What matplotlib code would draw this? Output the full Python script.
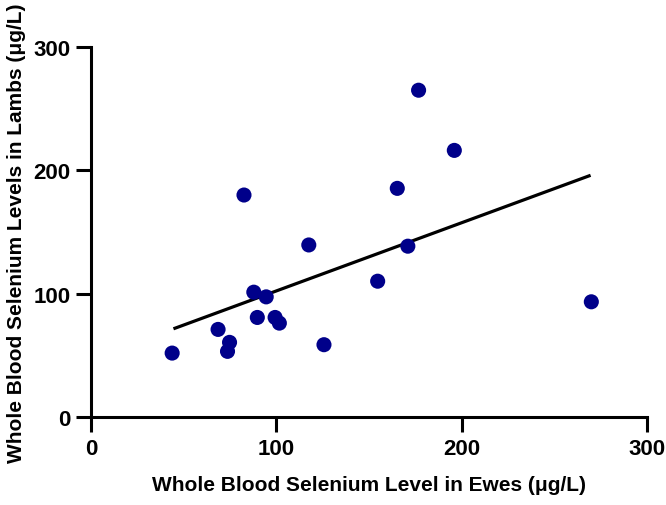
import matplotlib
matplotlib.use("Agg")
import matplotlib.pyplot as plt
import numpy as np

# Data
ewes_se = [43.7, 68.5, 74.7, 73.6, 82.5, 87.8, 89.7, 94.5, 99.3, 101.6,
           117.5, 125.7, 154.7, 165.3, 171.0, 176.8, 196.1, 270.1]
lambs_se = [51.8, 71.0, 60.5, 53.2, 180.0, 101.2, 80.7, 97.4, 80.7, 76.1,
            139.5, 58.6, 110.1, 185.4, 138.5, 265.0, 216.2, 93.4]
fit_x = [44.4, 269.7]
fit_y = [71.5, 196.0]
ticks = [0, 100, 200, 300]

plt.rcParams['font.family'] = ['Liberation Sans', 'DejaVu Sans']

fig = plt.figure(figsize=(6.66, 5.06), dpi=100)
ax = fig.add_axes([0.137, 0.174, 0.834, 0.731])

ax.plot(fit_x, fit_y, color='black', lw=2.3, solid_capstyle='butt', zorder=2)
ax.scatter(ewes_se, lambs_se, s=118, color='#00008a', edgecolors='none', zorder=3)

ax.set_xlim(0, 300)
ax.set_ylim(0, 300)
ax.set_xticks(ticks)
ax.set_yticks(ticks)
for s in ['top', 'right']:
    ax.spines[s].set_visible(False)
for s in ['left', 'bottom']:
    ax.spines[s].set_linewidth(2.2)
ax.tick_params(axis='both', direction='out', length=11, width=2.2, labelsize=16, pad=4)
for lab in ax.get_xticklabels() + ax.get_yticklabels():
    lab.set_fontweight('bold')

ax.set_xlabel('Whole Blood Selenium Level in Ewes (μg/L)', fontsize=15, fontweight='bold', labelpad=12)
ax.set_ylabel('Whole Blood Selenium Levels in Lambs (μg/L)', fontsize=15, fontweight='bold', labelpad=5)

fig.savefig('out.png', dpi=100)
